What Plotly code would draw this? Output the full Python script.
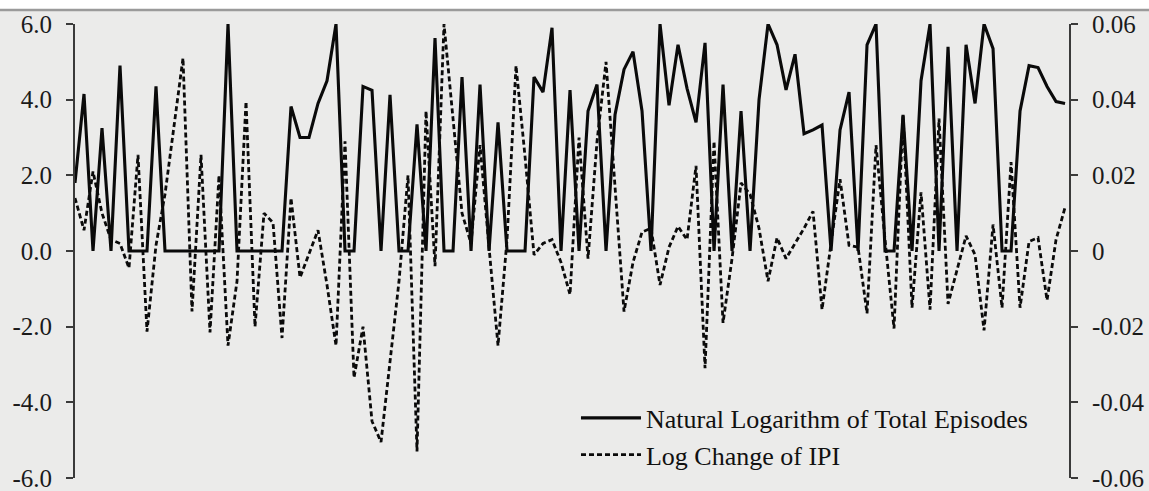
import plotly.graph_objects as go

# ---- data ----
periods = list(range(111))

ln_total_episodes = [
    1.8, 4.15, 0.0, 3.25, 0.0, 4.9, 0.0, 0.0, 0.0, 4.35,
    0.0, 0.0, 0.0, 0.0, 0.0, 0.0, 0.0, 6.0, 0.0, 0.0,
    0.0, 0.0, 0.0, 0.0, 3.82, 3.0, 3.0, 3.9, 4.5, 6.0,
    0.0, 0.0, 4.35, 4.25, 0.0, 4.13, 0.0, 0.0, 3.35, 0.0,
    5.63, 0.0, 0.0, 4.6, 0.0, 4.4, 0.0, 3.4, 0.0, 0.0,
    0.0, 4.6, 4.2, 5.9, 0.0, 4.25, 0.0, 3.7, 4.4, 0.0,
    3.6, 4.8, 5.27, 3.7, 0.0, 6.0, 3.85, 5.45, 4.3, 3.4,
    5.5, 0.0, 4.4, 0.0, 3.7, 0.0, 4.0, 6.0, 5.45, 4.26,
    5.2, 3.1, 3.2, 3.33, 0.0, 3.2, 4.2, 0.0, 5.45, 6.0,
    0.0, 0.0, 3.6, 0.0, 4.5, 6.0, 0.0, 5.4, 0.0, 5.45,
    3.9, 6.0, 5.35, 0.0, 0.0, 3.7, 4.9, 4.85, 4.35, 3.95,
    3.9,
]

log_change_ipi = [
    0.014, 0.0055, 0.021, 0.010, 0.003, 0.002, -0.0045, 0.0254, -0.0213, 0.0015,
    0.015, 0.033, 0.051, -0.016, 0.0254, -0.0215, 0.020, -0.025, -0.008, 0.0395,
    -0.020, 0.010, 0.0075, -0.023, 0.014, -0.007, -0.001, 0.0055, -0.009, -0.025,
    0.029, -0.0335, -0.020, -0.045, -0.0505, -0.030, -0.008, 0.020, -0.053, 0.037,
    -0.004, 0.060, 0.035, 0.010, 0.002, 0.028, 0.001, -0.025, 0.003, 0.049,
    0.025, -0.001, 0.002, 0.003, -0.003, -0.0115, 0.030, -0.002, 0.029, 0.050,
    0.017, -0.016, -0.003, 0.005, 0.006, -0.009, 0.001, 0.0065, 0.003, 0.0225,
    -0.031, 0.029, -0.019, -0.002, 0.018, 0.015, 0.006, -0.008, 0.0035, -0.002,
    0.002, 0.006, 0.0105, -0.0155, 0.002, 0.019, 0.0015, 0.001, -0.0165, 0.028,
    0.003, -0.0205, 0.036, -0.015, 0.0155, -0.0155, 0.035, -0.014, -0.005, 0.004,
    -0.001, -0.021, 0.007, -0.015, 0.0235, -0.015, 0.0025, 0.0035, -0.013, 0.003,
    0.0115,
]

left_tick_vals = [-6, -4, -2, 0, 2, 4, 6]
left_tick_text = ["-6.0", "-4.0", "-2.0", "0.0", "2.0", "4.0", "6.0"]
right_tick_vals = [-0.06, -0.04, -0.02, 0, 0.02, 0.04, 0.06]
right_tick_text = ["-0.06", "-0.04", "-0.02", "0", "0.02", "0.04", "0.06"]

series_names = ["Natural Logarithm of Total Episodes", "Log Change of IPI"]

# ---- figure ----
BG = "#ebebea"
FONT = "Liberation Serif, Times New Roman, serif"

fig = go.Figure()
fig.add_trace(go.Scatter(
    x=periods, y=ln_total_episodes, name=series_names[0], mode="lines",
    line=dict(color="#0a0a0a", width=3.1), yaxis="y",
))
fig.add_trace(go.Scatter(
    x=periods, y=log_change_ipi, name=series_names[1], mode="lines",
    line=dict(color="#0a0a0a", width=2.8, dash="5px,3px"), yaxis="y2",
))

axis_common = dict(
    showgrid=False, zeroline=False, showline=True, linecolor="#3a3a3a",
    linewidth=2, ticks="outside", ticklen=7, tickwidth=1.5, tickcolor="#3a3a3a",
    tickfont=dict(family=FONT, size=25, color="#1a1a1a"), ticklabelstandoff=9,
    automargin=False, ticklabeloverflow="allow",
)

fig.update_layout(
    width=1149, height=491,
    margin=dict(l=75, r=80, t=24, b=13, autoexpand=False),
    paper_bgcolor=BG, plot_bgcolor=BG,
    showlegend=True,
    legend=dict(
        x=0.504, y=0.184, xanchor="left", yanchor="top",
        bgcolor="rgba(0,0,0,0)", borderwidth=0,
        font=dict(family=FONT, size=26, color="#111111"),
        tracegroupgap=0, itemwidth=60,
    ),
    xaxis=dict(range=[0, 110.44], visible=False),
    yaxis=dict(range=[-6.0001, 6.0001], tickvals=left_tick_vals, ticktext=left_tick_text,
               side="left", **axis_common),
    yaxis2=dict(range=[-0.060001, 0.060001], tickvals=right_tick_vals, ticktext=right_tick_text,
                side="right", overlaying="y", **axis_common),
    hovermode=False,
)

# white strip and grey rule along the top edge of the page
fig.add_shape(type="rect", xref="paper", yref="paper", x0=-0.1, x1=1.1,
              y0=1.0325, y1=1.06, fillcolor="white", line=dict(width=0), layer="below")
fig.add_shape(type="line", xref="paper", yref="paper", x0=-0.1, x1=1.1,
              y0=1.0308, y1=1.0308, line=dict(color="#9a9a9a", width=2.5))

fig.write_html(
    "out.html",
    config={"displayModeBar": False},
    post_script="document.body.style.margin='0';document.body.style.background='%s';" % BG,
)
